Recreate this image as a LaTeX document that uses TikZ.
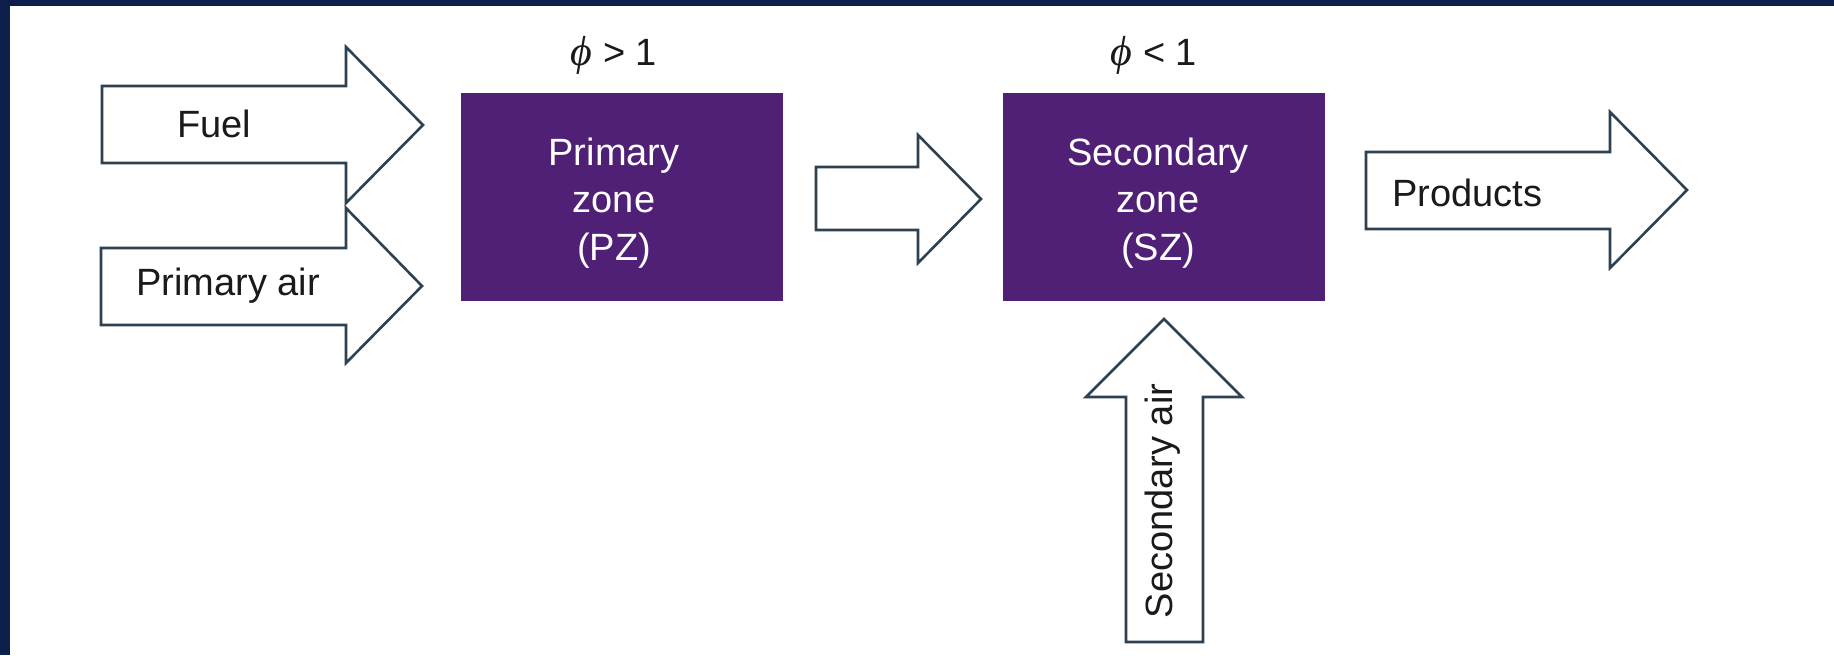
\documentclass[tikz,border=0pt]{standalone}
\usepackage{fontspec}
\setmainfont{Liberation Sans}
\newfontfamily\phifont{Liberation Serif}
\definecolor{band}{HTML}{0C1F4A}
\definecolor{zonepurple}{HTML}{4F2076}
\definecolor{arrowline}{HTML}{2E4150}
\definecolor{txt}{HTML}{1A1A1A}
\newcommand\zfont{\fontsize{19}{23.75}\selectfont}
\newcommand\myphi{{\phifont\itshape\fontsize{21}{24}\selectfont ϕ}}
\begin{document}
\begin{tikzpicture}[x=0.5pt,y=-0.5pt,
  blockarrow/.style={draw=arrowline, line width=1.3pt, fill=white, line join=miter},
  zone/.style={fill=zonepurple, draw=none, minimum width=161pt, minimum height=104pt, inner sep=0pt},
  lbl/.style={text=txt, font=\zfont, inner sep=0pt},
  wlbl/.style={text=white, font=\zfont, inner sep=0pt, anchor=base}]
\useasboundingbox (0,0) rectangle (1834,655);
\fill[band] (0,0) rectangle (1834,6);
\fill[band] (0,0) rectangle (10,655);

% block arrows
\draw[blockarrow] (102,86) -- (346,86) -- (346,47) -- (423,125) -- (346,203) -- (346,163) -- (102,163) -- cycle;
\draw[blockarrow] (101,248) -- (346,248) -- (346,208) -- (422,286) -- (346,363) -- (346,325) -- (101,325) -- cycle;
\draw[blockarrow] (816,167) -- (918,167) -- (918,135) -- (981,199) -- (918,263) -- (918,230) -- (816,230) -- cycle;
\draw[blockarrow] (1366,152) -- (1610,152) -- (1610,112) -- (1687,190) -- (1610,268) -- (1610,229) -- (1366,229) -- cycle;
\draw[blockarrow] (1126,642) -- (1126,397) -- (1086,397) -- (1164,319) -- (1242,397) -- (1203,397) -- (1203,642) -- cycle;

% arrow labels
\node[lbl, anchor=base west] (fuel) at (177,137) {Fuel};
\node[lbl, anchor=base west] (pair) at (136,295) {Primary air};
\node[lbl, anchor=base west] (prod) at (1392,206) {Products};
\node[lbl, anchor=base, rotate=90] (sair) at (1172,501) {Secondary air};

% zones
\node[zone] (pz) at (622,197) {};
\node[zone] (sz) at (1164,197) {};
\node[wlbl] (pz1) at (614,165) {Primary};
\node[wlbl] (pz2) at (614,212.7) {zone};
\node[wlbl] (pz3) at (614,260) {(PZ)};
\node[wlbl] (sz1) at (1158,165) {Secondary};
\node[wlbl] (sz2) at (1158,212.7) {zone};
\node[wlbl] (sz3) at (1158,260) {(SZ)};

% equivalence ratios
\node[lbl, anchor=base] (phi1) at (614,65) {\myphi{} > 1};
\node[lbl, anchor=base] (phi2) at (1154,65) {\myphi{} < 1};
\end{tikzpicture}
\end{document}
